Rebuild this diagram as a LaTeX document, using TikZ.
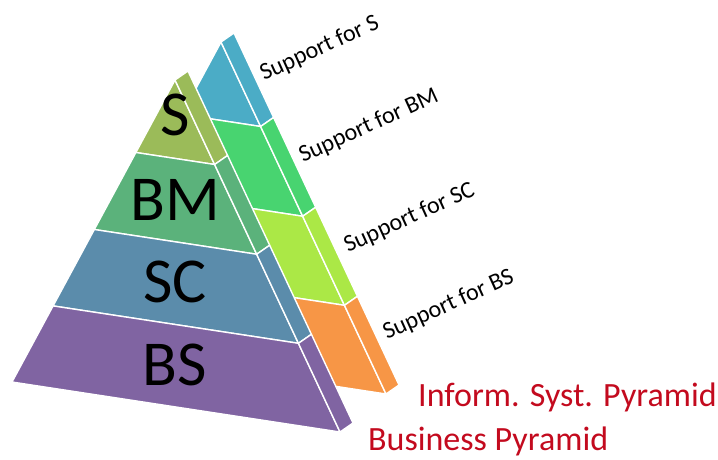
\documentclass[tikz,border=0pt]{standalone}
\usepackage{fontspec}
\setmainfont{Carlito}
\usepackage{tikz}
\usetikzlibrary{calc}

\definecolor{layerS}{HTML}{9BBB59}
\definecolor{layerBM}{HTML}{5BB27B}
\definecolor{layerSC}{HTML}{5B8CAB}
\definecolor{layerBS}{HTML}{8064A2}
\definecolor{supS}{HTML}{4BACC6}
\definecolor{supBM}{HTML}{48D470}
\definecolor{supSC}{HTML}{ABE846}
\definecolor{supBS}{HTML}{F79646}
\definecolor{titleRed}{RGB}{195,10,30}

\begin{document}
\begin{tikzpicture}[x=1pt,y=-1pt]
\tikzset{layer/.style={draw=white, line width=1.4pt, line join=round}}
\tikzset{bigtag/.style={font=\fontsize{64}{64}\selectfont}}
\tikzset{support/.style={font=\fontsize{24}{24}\selectfont, anchor=base west, rotate=24.5, inner sep=0pt}}
\tikzset{pyrtitle/.style={font=\fontsize{34}{34}\selectfont, text=titleRed, anchor=base west, inner sep=0pt}}

\useasboundingbox (0,0) rectangle (718,459);

% side strip offset
\pgfmathsetmacro{\dx}{13}
\pgfmathsetmacro{\dy}{-9}

% information system pyramid (behind)
\begin{scope}[shift={(46,-38)}]
\coordinate (iA) at (175,80);
\coordinate (iL) at (12,382);
\coordinate (iR) at (340,432);
\end{scope}
\foreach \ta/\tb/\col in {0/0.24/supS, 0.24/0.495/supBM, 0.495/0.748/supSC, 0.748/1/supBS} {
  \path[layer, fill=\col] ($(iA)!\ta!(iL)$) -- ($(iA)!\tb!(iL)$) -- ($(iA)!\tb!(iR)$) -- ($(iA)!\ta!(iR)$) -- cycle;
  \path[layer, fill=\col] ($(iA)!\ta!(iR)$) -- ($(iA)!\tb!(iR)$) -- ++(\dx,\dy) -- ($(iA)!\ta!(iR)+(\dx,\dy)$) -- cycle;
}

% business pyramid (front)
\coordinate (bA) at (175,80);
\coordinate (bL) at (12,382);
\coordinate (bR) at (340,432);
\foreach \ta/\tb/\col in {0/0.24/layerS, 0.24/0.495/layerBM, 0.495/0.748/layerSC, 0.748/1/layerBS} {
  \path[layer, fill=\col] ($(bA)!\ta!(bL)$) -- ($(bA)!\tb!(bL)$) -- ($(bA)!\tb!(bR)$) -- ($(bA)!\ta!(bR)$) -- cycle;
  \path[layer, fill=\col] ($(bA)!\ta!(bR)$) -- ($(bA)!\tb!(bR)$) -- ++(\dx,\dy) -- ($(bA)!\ta!(bR)+(\dx,\dy)$) -- cycle;
}

\node[bigtag] (tagS) at (175,115) {S};
\node[bigtag] (tagBM) at (175,200) {BM};
\node[bigtag] (tagSC) at (175,282) {SC};
\node[bigtag] (tagBS) at (175,365) {BS};

\node[support] (forS) at (264,81) {Support for S};
\node[support] (forBM) at (303,163) {Support for BM};
\node[support] (forSC) at (348,253) {Support for SC};
\node[support] (forBS) at (387,340) {Support for BS};

\node[pyrtitle] (infoTitle) at (418,406) {Inform. Syst. Pyramid};
\node[pyrtitle] (busTitle) at (368,450) {Business Pyramid};
\end{tikzpicture}
\end{document}
